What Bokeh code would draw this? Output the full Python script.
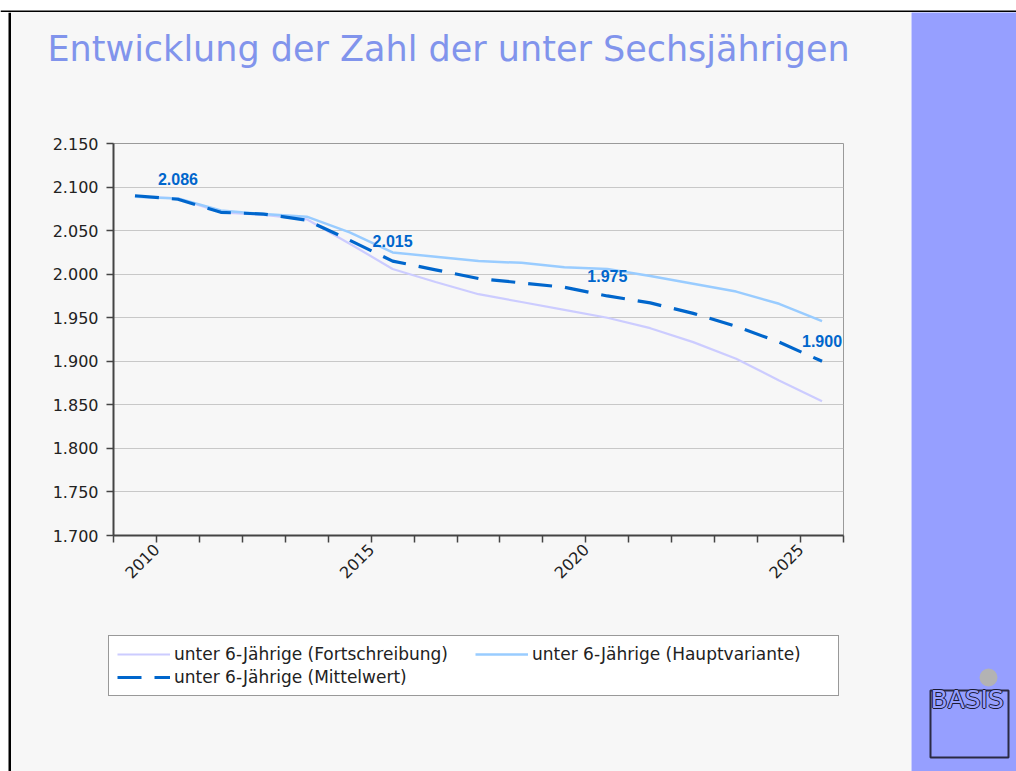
import math
from bokeh.plotting import figure
from bokeh.layouts import row, column
from bokeh.models import (FixedTicker, Legend, LegendItem, ColumnDataSource, Range1d)
from bokeh.core.properties import value
from bokeh.embed import file_html
from bokeh.resources import INLINE

# ---------------- data ----------------
title_text = "Entwicklung der Zahl der unter Sechsjährigen"
years = list(range(2009, 2026))
fortschreibung = [2089, 2087, 2071, 2068, 2063, 2035, 2006, 1991, 1977, 1968,
                  1959, 1950, 1938, 1922, 1903, 1878, 1854]
hauptvariante = [2089, 2087, 2073, 2069, 2066, 2048, 2025, 2020, 2015, 2013,
                 2008, 2006, 1998, 1989, 1980, 1966, 1946]
mittelwert = [2090, 2086, 2071, 2069, 2062, 2039, 2015, 2005, 1995, 1990,
              1985, 1975, 1967, 1955, 1940, 1922, 1900]
series_names = ["unter 6-Jährige (Fortschreibung)",
                "unter 6-Jährige (Hauptvariante)",
                "unter 6-Jährige (Mittelwert)"]
label_years = [2010, 2015, 2020, 2025]
label_values = [2086, 2015, 1975, 1900]
label_texts = ["2.086", "2.015", "1.975", "1.900"]
y_ticks = [1700, 1750, 1800, 1850, 1900, 1950, 2000, 2050, 2100, 2150]
y_tick_labels = ["1.700", "1.750", "1.800", "1.850", "1.900", "1.950",
                 "2.000", "2.050", "2.100", "2.150"]
x_ticks = list(range(2009, 2027))
x_labelled = [2010, 2015, 2020, 2025]
logo_text = "BASIS"

# ---------------- styling ----------------
FONT = "DejaVu Sans"
LABEL_FONT = "Liberation Sans"
SLIDE_BG = "#f7f7f7"
PANEL_BG = "#969fff"
COLORS = ["#ccccff", "#99ccff", "#0066cc"]


def blank(w, h, bg):
    f = figure(width=w, height=h, output_backend="svg", toolbar_location=None,
               x_axis_type=None, y_axis_type=None,
               x_range=Range1d(0, w), y_range=Range1d(h, 0), min_border=0)
    f.background_fill_color = bg
    f.border_fill_color = bg
    f.outline_line_color = None
    f.grid.visible = False
    f.frame_align = False
    return f


# top strip: white margin + black slide border
top = blank(1016, 12, "white")
top.quad(left=[0], right=[1016], top=[10], bottom=[12], fill_color="black", line_color=None)

# left strip
left = blank(11, 759, "white")
left.quad(left=[8], right=[11], top=[0], bottom=[759], fill_color="black", line_color=None)

# title
tf = blank(900, 80, SLIDE_BG)
tf.text(x=[36], y=[36], text=[title_text], text_font=value(FONT), text_font_size="35px",
        text_color="#8194ec", text_baseline="middle", text_align="left")

# main chart
FL, FT, FW, FH = 102, 51, 730, 392
MW, MH = 900, 523
p = figure(width=MW, height=MH, output_backend="svg", toolbar_location=None,
           x_range=Range1d(2009, 2026), y_range=Range1d(1700, 2150),
           min_border_left=FL, min_border_top=FT,
           min_border_right=MW - FL - FW, min_border_bottom=MH - FT - FH)
p.frame_align = False
p.background_fill_color = SLIDE_BG
p.border_fill_color = SLIDE_BG
p.outline_line_color = "#9a9a9a"
p.outline_line_width = 1

xs = [y + 0.5 for y in years]
src = ColumnDataSource(dict(x=xs, f=fortschreibung, h=hauptvariante, m=mittelwert))
p.line("x", "f", source=src, line_color=COLORS[0], line_width=2.2)
p.line("x", "h", source=src, line_color=COLORS[1], line_width=2.5)
p.line("x", "m", source=src, line_color=COLORS[2], line_width=3.2, line_dash="24 13")

lsrc = ColumnDataSource(dict(x=[y + 0.5 for y in label_years], y=label_values, t=label_texts))
p.text("x", "y", text="t", source=lsrc, text_font=value(LABEL_FONT), text_font_style="bold",
       text_font_size="16px", text_color="#0066cc", text_align="center",
       text_baseline="middle", y_offset=-20)

p.yaxis.ticker = FixedTicker(ticks=y_ticks)
p.yaxis.major_label_overrides = dict(zip(y_ticks, y_tick_labels))
p.xaxis.ticker = FixedTicker(ticks=x_ticks)
p.xaxis.major_label_overrides = {t: (str(t) if t in x_labelled else "") for t in x_ticks}
p.xaxis.major_label_orientation = math.pi / 4
for ax in (p.xaxis, p.yaxis):
    ax.axis_line_color = "#444444"
    ax.axis_line_width = 2
    ax.major_tick_line_color = "#444444"
    ax.major_tick_line_width = 1.5
    ax.major_tick_in = 0
    ax.major_tick_out = 7
    ax.minor_tick_line_color = None
    ax.major_label_text_font = FONT
    ax.major_label_text_font_size = "16px"
    ax.major_label_text_color = "#222222"
p.yaxis.major_label_standoff = 8
p.xaxis.major_label_standoff = 4
p.xgrid.visible = False
p.ygrid.ticker = FixedTicker(ticks=y_ticks)
p.ygrid.grid_line_color = "#c8c8c8"
p.ygrid.grid_line_width = 1

# legend strip (legend samples use the same series, drawn outside this strip's view)
LW, LH = 900, 156
lf = blank(LW, LH, SLIDE_BG)
l1 = lf.line("x", "f", source=src, line_color=COLORS[0], line_width=2.2)
l2 = lf.line("x", "h", source=src, line_color=COLORS[1], line_width=2.5)
l3 = lf.line("x", "m", source=src, line_color=COLORS[2], line_width=3.2, line_dash="24 13")
legend = Legend(items=[LegendItem(label=series_names[0], renderers=[l1]),
                       LegendItem(label=series_names[1], renderers=[l2]),
                       LegendItem(label=series_names[2], renderers=[l3])],
                location=(97, 75), orientation="horizontal", ncols=2,
                glyph_width=53, glyph_height=18, label_height=18, label_width=298,
                label_standoff=4, spacing=3, padding=8, margin=0,
                label_text_font=FONT, label_text_font_size="17px",
                label_text_color="#222222",
                border_line_color="#333333", border_line_width=1.5,
                background_fill_color="white", background_fill_alpha=1)
lf.add_layout(legend)

# right panel with logo
sf = blank(105, 759, PANEL_BG)
sf.quad(left=[19], right=[97], top=[678], bottom=[745], fill_color=None,
        line_color="#2a2a44", line_width=2)
sf.scatter(x=[77], y=[665], marker="circle", size=18, fill_color="#b3b3b3", line_color=None)
for dx, dy, col in [(-1, 0, "#1a1a33"), (1, 0, "#1a1a33"), (0, -1, "#1a1a33"),
                    (0, 1, "#1a1a33"), (0, 0, PANEL_BG)]:
    sf.text(x=[19], y=[687], text=[logo_text], text_font=value(FONT), text_font_size="25px",
            text_color=col, x_offset=dx, y_offset=dy, text_baseline="middle",
            text_align="left")

inner = column(tf, p, lf)
inner.styles = {"background-color": SLIDE_BG}
layout = column(top, row(left, inner, sf))
open("out.html", "w").write(file_html(layout, INLINE))
